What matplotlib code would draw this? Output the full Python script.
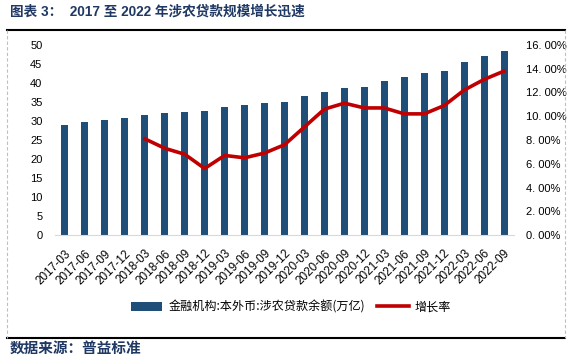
import matplotlib
matplotlib.use("Agg")
import matplotlib.pyplot as plt
from matplotlib.lines import Line2D
from matplotlib.ticker import FuncFormatter
import numpy as np

plt.rcParams['font.family'] = ['Liberation Sans', 'Noto Sans CJK SC', 'DejaVu Sans']

categories = ["2017-03", "2017-06", "2017-09", "2017-12",
              "2018-03", "2018-06", "2018-09", "2018-12",
              "2019-03", "2019-06", "2019-09", "2019-12",
              "2020-03", "2020-06", "2020-09", "2020-12",
              "2021-03", "2021-06", "2021-09", "2021-12",
              "2022-03", "2022-06", "2022-09"]
# loan balance (trillion yuan)
balance = [28.9, 29.7, 30.3, 30.8,
           31.6, 32.1, 32.4, 32.6,
           33.7, 34.2, 34.7, 35.0,
           36.6, 37.6, 38.7, 38.9,
           40.5, 41.6, 42.6, 43.2,
           45.5, 47.1, 48.4]
# growth rate (%), starts 2018-03
growth = [None, None, None, None,
          8.1, 7.3, 6.8, 5.6,
          6.7, 6.5, 6.9, 7.6,
          9.1, 10.6, 11.1, 10.7,
          10.7, 10.2, 10.2, 10.9,
          12.2, 13.1, 13.8]

bar_label = "金融机构:本外币:涉农贷款余额(万亿)"
line_label = "增长率"
title = "图表 3：  2017 至 2022 年涉农贷款规模增长迅速"
source = "数据来源：普益标准"

W, H = 571, 357
fig = plt.figure(figsize=(W/100, H/100), dpi=100)

ax = fig.add_axes([55/W, 1-235/H, (514-55)/W, 190/H])
x = np.arange(len(categories))
ax.bar(x, balance, width=0.35, color="#1F4E79", label=bar_label, zorder=2)
ax.set_ylim(0, 50)
ax.set_yticks(np.arange(0, 51, 5))
ax.set_xlim(-0.5, len(categories)-0.5)
ax.set_xticks(x)
ax.set_xticklabels(categories, rotation=45, ha="right", va="top",
                   rotation_mode="anchor", fontsize=8.5)
for s in ["top", "right", "left"]:
    ax.spines[s].set_visible(False)
ax.spines["bottom"].set_color("#d9d9d9")
ax.tick_params(axis="y", length=0, labelsize=8, pad=9)
ax.tick_params(axis="x", length=0, pad=9)

ax2 = ax.twinx()
gx = [i for i, g in enumerate(growth) if g is not None]
gy = [g/100 for g in growth if g is not None]
ax2.plot(gx, gy, color="#C00000", lw=2.6, label=line_label, zorder=3)
ax2.set_ylim(0, 0.16)
ax2.set_yticks(np.arange(0, 0.161, 0.02))
ax2.yaxis.set_major_formatter(FuncFormatter(lambda v, p: f"{v*100:.2f}%".replace(".", ". ")))
for s in ["top", "right", "left", "bottom"]:
    ax2.spines[s].set_visible(False)
ax2.tick_params(axis="y", length=0, labelsize=8, pad=9)

h1, l1 = ax.get_legend_handles_labels()
h2, l2 = ax2.get_legend_handles_labels()
fig.legend(h1 + h2, l1 + l2, loc="center", bbox_to_anchor=(291/W, 1-307/H),
           ncol=2, frameon=False, handlelength=2.6,
           handleheight=0.7, columnspacing=1.0, handletextpad=0.5,
           prop={'family': ['Noto Sans CJK SC'], 'size': 8.7})

fig.text(10/W, 1-12/H, title, fontsize=9.8, fontweight="bold", color="#1F3864",
         va="center", ha="left", family=['Liberation Sans', 'Noto Sans CJK SC'])
fig.text(10/W, 1-348/H, source, fontsize=10.5, fontweight="bold", color="#1F3864",
         va="center", ha="left", family=['Noto Sans CJK SC'])

fig.add_artist(Line2D([7/W, 565/W], [1-30/H, 1-30/H], color="black", lw=1.5))
fig.add_artist(Line2D([7/W, 565/W], [1-338/H, 1-338/H], color="black", lw=1.5))
fig.add_artist(Line2D([7/W, 7/W], [1-30/H, 1-338/H], color="#bfbfbf", lw=0.8, ls=(0, (3, 2))))
fig.add_artist(Line2D([565/W, 565/W], [1-30/H, 1-338/H], color="#bfbfbf", lw=0.8, ls=(0, (3, 2))))

fig.savefig("out.png", dpi=100)
